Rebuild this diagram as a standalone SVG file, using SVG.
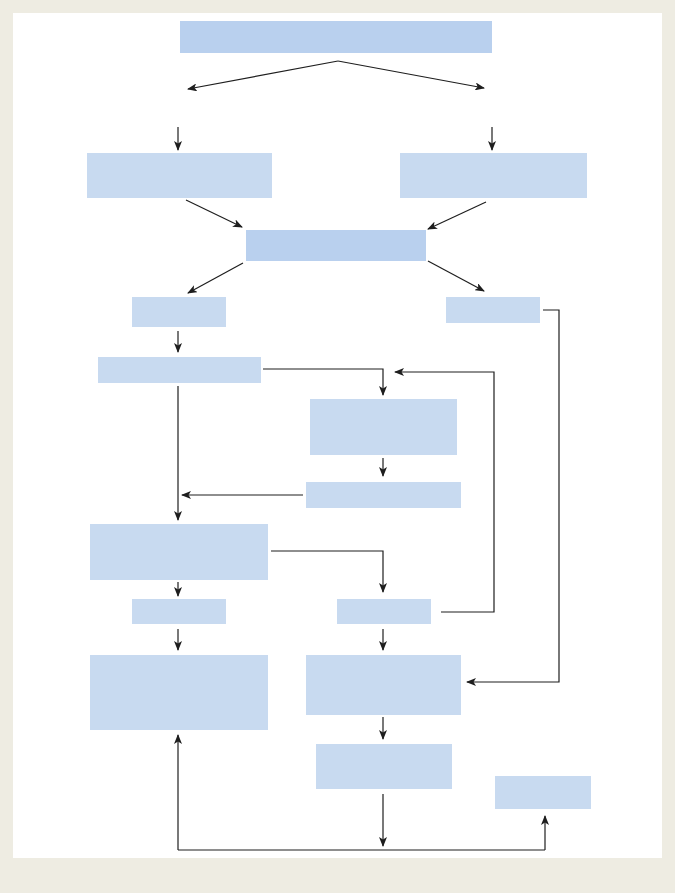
<svg xmlns="http://www.w3.org/2000/svg" width="675" height="893" viewBox="0 0 675 893">
<style>
.bg{fill:#EEECE2}
.panel{fill:#FFFFFF}
.n{fill:#C8DAF0}
.d{fill:#B9D0EE}
.c{fill:none;stroke:#1E1E1E;stroke-width:1.2;marker-end:url(#ah)}
.l{fill:none;stroke:#1E1E1E;stroke-width:1.2}
</style>
<defs>
<marker id="ah" viewBox="0 0 10 8" refX="9" refY="4" markerWidth="10" markerHeight="8" markerUnits="userSpaceOnUse" orient="auto">
<path d="M0,0 L10,4 L0,8 L2.5,4 z" fill="#1E1E1E"/>
</marker>
</defs>
<rect class="bg" x="0" y="0" width="675" height="893"/>
<rect class="panel" x="13" y="13" width="649" height="845"/>
<g id="n1"><rect class="d" x="180" y="21" width="312" height="32"/></g>
<g id="n2"><rect class="n" x="87" y="153" width="185" height="45"/></g>
<g id="n3"><rect class="n" x="400" y="153" width="187" height="45"/></g>
<g id="n4"><rect class="d" x="246" y="230" width="180" height="31"/></g>
<g id="n5"><rect class="n" x="132" y="297" width="94" height="30"/></g>
<g id="n6"><rect class="n" x="446" y="297" width="94" height="26"/></g>
<g id="n7"><rect class="n" x="98" y="357" width="163" height="26"/></g>
<g id="n8"><rect class="n" x="310" y="399" width="147" height="56"/></g>
<g id="n9"><rect class="n" x="306" y="482" width="155" height="26"/></g>
<g id="n10"><rect class="n" x="90" y="524" width="178" height="56"/></g>
<g id="n11"><rect class="n" x="132" y="599" width="94" height="25"/></g>
<g id="n12"><rect class="n" x="337" y="599" width="94" height="25"/></g>
<g id="n13"><rect class="n" x="90" y="655" width="178" height="75"/></g>
<g id="n14"><rect class="n" x="306" y="655" width="155" height="60"/></g>
<g id="n15"><rect class="n" x="316" y="744" width="136" height="45"/></g>
<g id="n16"><rect class="n" x="495" y="776" width="96" height="33"/></g>
<g id="connectors">
<path class="c" d="M338,61 L188,89"/>
<path class="c" d="M338,61 L484,88"/>
<path class="c" d="M178,127 L178,150"/>
<path class="c" d="M492,127 L492,150"/>
<path class="c" d="M186,200 L242,227"/>
<path class="c" d="M486,202 L428,229"/>
<path class="c" d="M243,263 L188,293"/>
<path class="c" d="M428,261 L484,291"/>
<path class="c" d="M178,331 L178,352"/>
<path class="c" d="M263,369 L383,369 L383,395"/>
<path class="c" d="M441,612 L494,612 L494,372 L395,372"/>
<path class="c" d="M383,458 L383,476"/>
<path class="c" d="M303,495 L182,495"/>
<path class="c" d="M178,386 L178,520"/>
<path class="c" d="M271,551 L383,551 L383,592"/>
<path class="c" d="M178,582 L178,596"/>
<path class="c" d="M543,310 L559,310 L559,682 L467,682"/>
<path class="c" d="M178,629 L178,650"/>
<path class="c" d="M383,629 L383,650"/>
<path class="c" d="M383,717 L383,739"/>
<path class="c" d="M383,794 L383,846"/>
<path class="l" d="M178,850 L545,850"/>
<path class="c" d="M178,850 L178,735"/>
<path class="c" d="M545,850 L545,816"/>
</g>
</svg>
